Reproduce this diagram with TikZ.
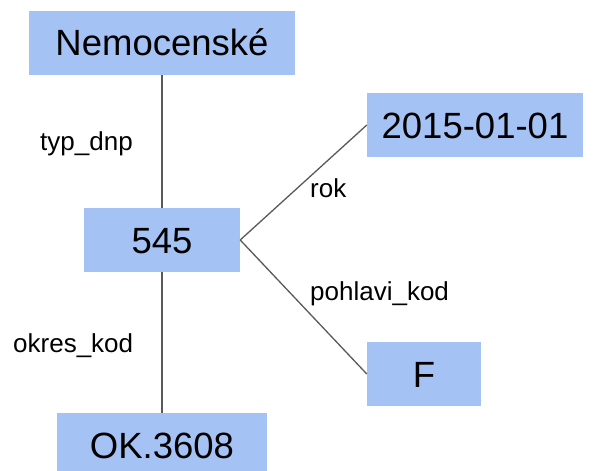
\documentclass[tikz,border=0pt]{standalone}
\usepackage{fontspec}
\setmainfont{Liberation Sans}
\definecolor{boxblue}{HTML}{A4C2F4}
\definecolor{linegray}{HTML}{595959}
\begin{document}
\begin{tikzpicture}[x=1pt,y=-1pt,
  valbox/.style={fill=boxblue, draw=none, inner sep=0pt, text height=26pt, text depth=0pt,
    minimum height=64pt, font=\fontsize{36.5}{40}\selectfont},
  edgelbl/.style={anchor=base west, inner sep=0pt, font=\fontsize{26}{30}\selectfont},
  conn/.style={draw=linegray, line width=1.3pt}]
\useasboundingbox (0,0) rectangle (595,471);
\clip (0,0) rectangle (595,471);
\node[valbox, minimum width=266pt] (nem) at (162,43) {Nemocenské};
\node[valbox, minimum width=156pt] (n545) at (162,240) {545};
\node[valbox, minimum width=216pt] (d2015) at (475,125) {2015-01-01};
\node[valbox, minimum width=114pt] (f) at (424,374) {F};
\node[valbox, minimum width=210pt] (ok) at (162,445) {OK.3608};
\draw[conn] (nem.south) -- (n545.north);
\draw[conn] (n545.south) -- (ok.north);
\draw[conn] (n545.east) -- (d2015.west);
\draw[conn] (n545.east) -- (f.west);
\node[edgelbl] (l1) at (40,150) {typ\_dnp};
\node[edgelbl] (l2) at (310,197) {rok};
\node[edgelbl] (l3) at (310,300) {pohlavi\_kod};
\node[edgelbl] (l4) at (13,352) {okres\_kod};
\end{tikzpicture}
\end{document}
